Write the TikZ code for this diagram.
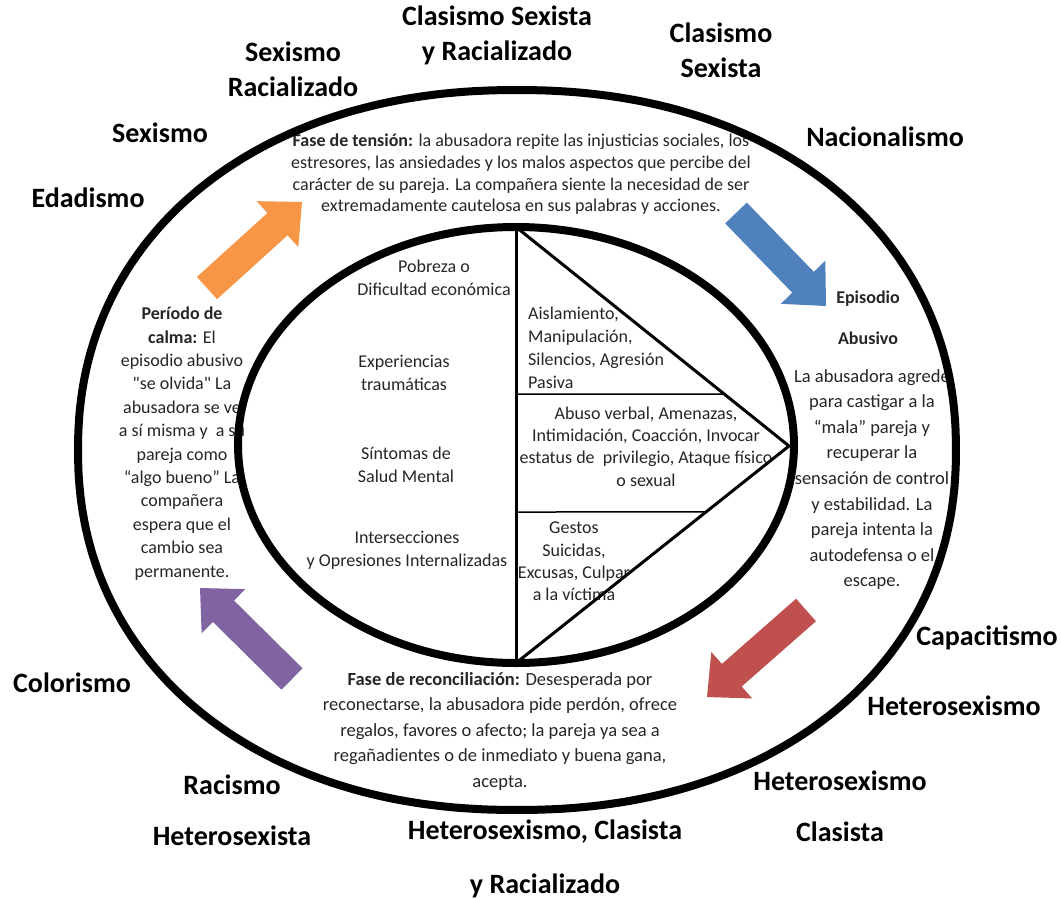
\documentclass[tikz,border=0pt]{standalone}
\usepackage{fontspec}
\setmainfont{Carlito}
\newfontfamily\plainq{Carlito}
\usetikzlibrary{calc}
\definecolor{aorange}{HTML}{F79646}
\definecolor{ablue}{HTML}{4F81BD}
\definecolor{ared}{HTML}{C0504D}
\definecolor{apurple}{HTML}{8064A2}
\definecolor{txt}{HTML}{262626}
\tikzset{
  lab/.style={font=\fontsize{28}{35}\selectfont\bfseries, align=center, inner sep=0pt, text=black},
  labwide/.style={lab, font=\fontsize{28}{51}\selectfont\bfseries},
  body/.style={font=\fontsize{18}{22.5}\selectfont, align=center, inner sep=0pt, text=txt},
  ring/.style={line width=8pt, black},
  tri/.style={line width=3pt, black, line join=miter},
  sep/.style={line width=1.5pt, black},
}
\newcommand\blockarr[3]{%
  \coordinate (hb) at ($(#3)!33pt!(#2)$);
  \fill[#1] ($(#2)!15pt!90:(#3)$) -- ($(hb)!15pt!-90:(#2)$) -- ($(hb)!31pt!-90:(#2)$) -- (#3)
    -- ($(hb)!31pt!90:(#2)$) -- ($(hb)!15pt!90:(#2)$) -- ($(#2)!15pt!-90:(#3)$) -- cycle;
}
\begin{document}
\begin{tikzpicture}[x=1pt,y=-1pt]
\useasboundingbox[fill=white] (0,0) rectangle (1061,900);

% outer labels
\node[lab] (csr) at (497,35) {Clasismo Sexista\\y Racializado};
\node[lab] (cs) at (721,50.5) {Clasismo\\Sexista};
\node[lab] (sr) at (293,69.5) {Sexismo\\Racializado};
\node[lab] (sex) at (160,133) {Sexismo};
\node[lab] (nac) at (885,137) {Nacionalismo};
\node[lab] (eda) at (88,198) {Edadismo};
\node[lab] (cap) at (987,638) {Capacitismo};
\node[lab] (het) at (954,706) {Heterosexismo};
\node[lab] (col) at (72,683) {Colorismo};
\node[labwide] (hc) at (840,806.5) {Heterosexismo\\Clasista};
\node[labwide] (rh) at (232,810.5) {Racismo\\Heterosexista};
\node[lab, font=\fontsize{28}{54}\selectfont\bfseries] (hcr) at (545,859) {Heterosexismo, Clasista\\y Racializado};

% phase texts
\node[body, font=\fontsize{18}{21.7}\selectfont] (ten) at (521,174.5)
  {\textbf{Fase de tensión:} la abusadora repite las injusticias sociales, los\\
   estresores, las ansiedades y los malos aspectos que percibe del\\
   carácter de su pareja. La compañera siente la necesidad de ser\\
   extremadamente cautelosa en sus palabras y acciones.};
\node[body, font=\fontsize{18}{41}\selectfont\bfseries] (epit) at (868,317.5) {Episodio\\Abusivo};
\node[body, font=\fontsize{18.5}{25.6}\selectfont] (epi) at (872,479.5)
  {La abusadora agrede\\para castigar a la\\“mala” pareja y\\recuperar la\\sensación de control\\y estabilidad. La\\pareja intenta la\\autodefensa o el\\escape.};
\node[body, font=\fontsize{18}{23.4}\selectfont] (cal) at (182,443.5)
  {\textbf{Período de}\\\textbf{calma:} El\\episodio abusivo\\{\plainq"}se olvida{\plainq"} La\\abusadora se ve\\a sí misma y\ \ a su\\pareja como\\“algo bueno” La\\compañera\\espera que el\\cambio sea\\permanente.};
\node[body, font=\fontsize{18.5}{25.5}\selectfont] (rec) at (500,731)
  {\textbf{Fase de reconciliación:} Desesperada por\\
   reconectarse, la abusadora pide perdón, ofrece\\
   regalos, favores o afecto; la pareja ya sea a\\
   regañadientes o de inmediato y buena gana,\\
   acepta.};

% inner texts
\node[body] (pob) at (434,278) {Pobreza o\\Dificultad económica};
\node[body] (exp) at (404,373) {Experiencias\\traumáticas};
\node[body] (sin) at (406,465) {Síntomas de\\Salud Mental};
\node[body] (int) at (407,550.5) {Intersecciones\\y Opresiones Internalizadas};
\node[body, align=left, anchor=west, font=\fontsize{18}{23}\selectfont] (ais) at (528,347.5)
  {Aislamiento,\\Manipulación,\\Silencios, Agresión\\Pasiva};
\node[body, font=\fontsize{18}{22.3}\selectfont] (abu) at (646,446.5)
  {Abuso verbal, Amenazas,\\Intimidación, Coacción, Invocar\\estatus de\ \ privilegio, Ataque físico\\o sexual};
\node[body, font=\fontsize{18}{22.3}\selectfont] (ges) at (574,561.5)
  {Gestos\\Suicidas,\\Excusas, Culpar\\a la víctima};

% triangle
\coordinate (vt) at (516,227);
\coordinate (vb) at (516,663);
\coordinate (ap) at (789,446);
\coordinate (h1) at (516,394);
\coordinate (h2) at (516,512);
\draw[tri] (vt) -- (ap) -- (vb);
\draw[tri] (vt) -- (vb);
\draw[sep] (h1) -- ($(vt)!0.7626!(ap)$);
\draw[sep] (h2) -- ($(ap)!0.304!(vb)$);

% rings
\draw[ring] (516,445) ellipse [x radius=278pt, y radius=218pt];
\draw[ring] plot[smooth cycle, domain=1:357, samples=90, variable=\t]
  ({517+439*cos(\t)*abs(cos(\t))^(-0.07)}, {450+360*sin(\t)*abs(sin(\t))^(-0.07)});

% arrows
\coordinate (oT) at (207,288); \coordinate (oH) at (302,202);
\coordinate (bT) at (736,213); \coordinate (bH) at (826,306);
\coordinate (rT) at (806,610); \coordinate (rH) at (707,697);
\coordinate (pT) at (292,679); \coordinate (pH) at (200,588);
\blockarr{aorange}{oT}{oH}
\blockarr{ablue}{bT}{bH}
\blockarr{ared}{rT}{rH}
\blockarr{apurple}{pT}{pH}
\end{tikzpicture}
\end{document}
